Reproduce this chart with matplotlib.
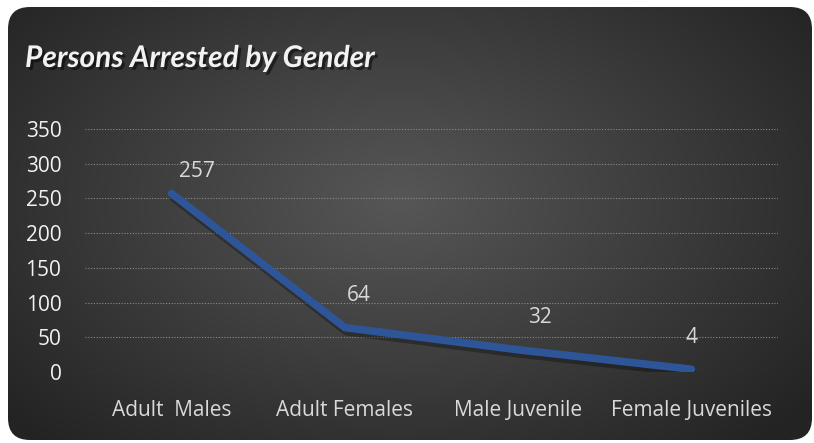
import numpy as np
import matplotlib
matplotlib.use("Agg")
import matplotlib.pyplot as plt
import matplotlib.patheffects as pe
from matplotlib.patches import FancyBboxPatch

categories = ["Adult  Males", "Adult Females", "Male Juvenile", "Female Juveniles"]
arrests = [257, 64, 32, 4]
yticks = [0, 50, 100, 150, 200, 250, 300, 350]

plt.rcParams['font.family'] = ['Open Sans', 'DejaVu Sans']

fig = plt.figure(figsize=(8.14, 4.43), dpi=100)
fig.patch.set_facecolor('white')

# background panel with radial gradient and rounded corners
bg = fig.add_axes([0, 0, 1, 1])
bg.set_axis_off()
bg.set_xlim(0, 814)
bg.set_ylim(443, 0)
gx, gy = np.meshgrid(np.linspace(0, 814, 400), np.linspace(0, 443, 220))
r = np.sqrt(((gx - 400) / 520) ** 2 + ((gy - 200) / 330) ** 2)
shade = np.clip(0.34 - 0.20 * r, 0.14, 0.34)
img = np.dstack([shade, shade, shade])
im = bg.imshow(img, extent=(0, 814, 443, 0), aspect='auto', zorder=0)
panel = FancyBboxPatch((8, 7), 804, 433, boxstyle="round,pad=0,rounding_size=22",
                       facecolor='none', edgecolor='none', transform=bg.transData)
bg.add_patch(panel)
im.set_clip_path(panel)

fig.text(25 / 814, 1 - 58 / 443, "Persons Arrested by Gender", fontsize=21.5,
         family=['Lato', 'DejaVu Sans'], fontweight='bold', fontstyle='italic',
         color='#f2f2f2', va='center', ha='left',
         path_effects=[pe.withSimplePatchShadow(offset=(2, -2), shadow_rgbFace='black', alpha=0.5)])

ax = fig.add_axes([85 / 814, 71 / 443, 693 / 814, 243 / 443])
ax.patch.set_alpha(0)
x = np.arange(len(categories))
ax.plot(x, arrests, color='#2e5597', lw=5.5, solid_capstyle='round', zorder=3,
        path_effects=[pe.SimpleLineShadow(offset=(1, -3), shadow_color='black', alpha=0.3),
                      pe.Normal()])

offsets = [(18, 16), (10, 23), (16, 23), (0, 23)]
for xi, v, off in zip(x, arrests, offsets):
    ax.annotate(str(v), (xi, v), xytext=off, textcoords='offset points',
                ha='center', va='center', color='#d9d9d9', fontsize=15)

ax.set_xlim(-0.5, len(categories) - 0.5)
ax.set_ylim(0, 350)
ax.set_yticks(yticks)
ax.set_xticks(x)
ax.set_xticklabels(categories)
ax.tick_params(axis='both', length=0, colors='#d9d9d9', labelsize=15)
ax.tick_params(axis='y', pad=17)
ax.tick_params(axis='x', pad=20)
for lab in ax.get_yticklabels():
    lab.set_color('#f2f2f2')
ax.yaxis.grid(True, color='#8c8c8c', lw=0.8, ls=(0, (1, 1.5)))
ax.set_axisbelow(True)
for s in ax.spines.values():
    s.set_visible(False)

fig.savefig("out.png", dpi=100, facecolor='white')
